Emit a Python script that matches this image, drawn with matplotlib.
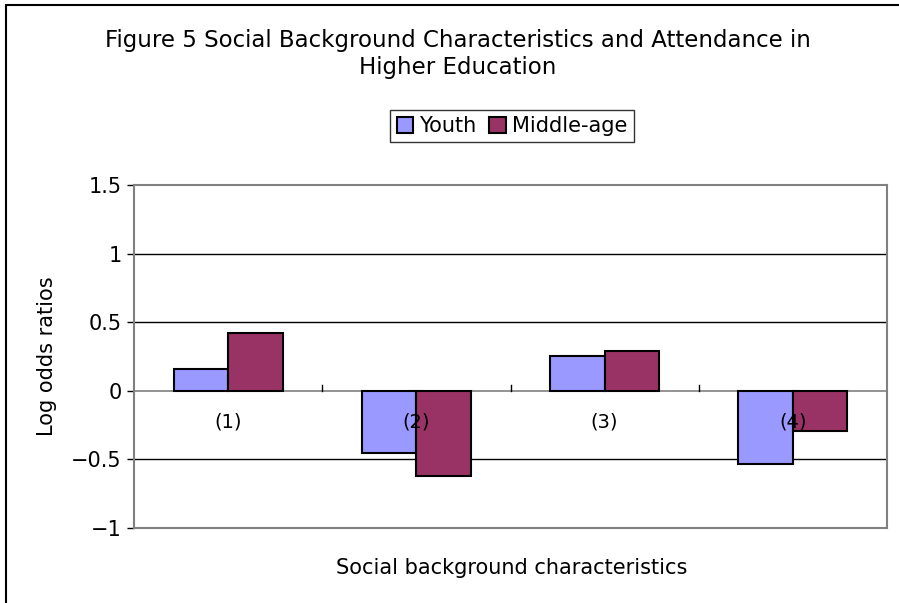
import numpy as np
import matplotlib as mpl
mpl.use("Agg")
from matplotlib import pyplot as plt
from matplotlib.patches import Rectangle

# data
categories = ["(1)", "(2)", "(3)", "(4)"]
youth = [0.16, -0.45, 0.25, -0.53]
middle_age = [0.42, -0.62, 0.29, -0.29]
yticks = [-1, -0.5, 0, 0.5, 1, 1.5]
ytick_labels = ["\u22121", "\u22120.5", "0", "0.5", "1", "1.5"]

plt.rcParams['font.family'] = ['DejaVu Sans']

fig = plt.figure(figsize=(8.99, 6.03), dpi=100)
ax = fig.add_axes([134 / 899, 1 - 528 / 603, (887 - 134) / 899, (528 - 185) / 603])

# chart area border (only left and top fall inside the picture)
fig.patches.append(Rectangle((6 / 899, -0.05), 1.2, 1.05 - 5 / 603, transform=fig.transFigure,
                             fill=False, edgecolor='black', linewidth=1.5))

x = np.arange(len(categories))
w = 0.29
ax.bar(x - w / 2, youth, w, color='#9999ff', edgecolor='black', linewidth=1.5,
       label='Youth', zorder=3)
ax.bar(x + w / 2, middle_age, w, color='#993366', edgecolor='black', linewidth=1.5,
       label='Middle-age', zorder=3)

ax.set_xlim(-0.5, len(categories) - 0.5)
ax.set_ylim(-1, 1.5)
ax.set_yticks(yticks)
ax.set_yticklabels(ytick_labels, fontsize=15)
ax.tick_params(axis='y', direction='out', length=5, width=1, pad=4)
ax.set_xticks([])

# gridlines
for v in [-0.5, 0.5, 1]:
    ax.axhline(v, color='black', linewidth=1, zorder=1)
ax.axhline(0, color='#808080', linewidth=1.2, zorder=2)

# category boundary ticks on zero line
for b in np.arange(0.5, len(categories) - 1, 1.0):
    ax.plot([b, b], [0, 0.04], color='black', linewidth=1, zorder=2)

# category labels under zero line
for i, c in enumerate(categories):
    ax.text(i, -0.23, c, ha='center', va='center', fontsize=14, zorder=4)

for s in ['top', 'right', 'bottom', 'left']:
    ax.spines[s].set_color('#808080')
    ax.spines[s].set_linewidth(1.5)

ax.set_ylabel('Log odds ratios', fontsize=15, labelpad=10)
fig.text(512 / 899, 1 - 568 / 603, 'Social background characteristics',
         ha='center', va='center', fontsize=15)

fig.text(458 / 899, 1 - 54 / 603,
         'Figure 5 Social Background Characteristics and Attendance in\nHigher Education',
         ha='center', va='center', fontsize=16.5, linespacing=1.25)

leg = fig.legend(loc='center', bbox_to_anchor=(512 / 899, 1 - 126 / 603), ncol=2,
                 fontsize=15, frameon=True, fancybox=False, edgecolor='black',
                 handlelength=0.8, handleheight=0.8, handletextpad=0.3,
                 columnspacing=0.6, borderpad=0.3)
leg.get_frame().set_linewidth(1)

fig.savefig('out.png', dpi=100)
